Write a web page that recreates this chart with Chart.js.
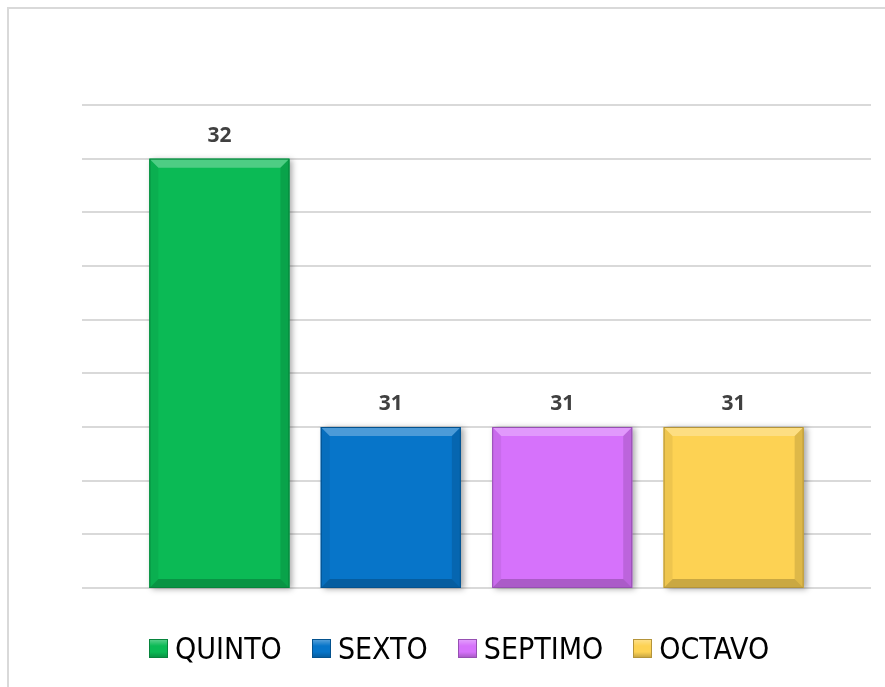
<!DOCTYPE html>
<html>
<head>
<meta charset="utf-8">
<script src="https://cdn.jsdelivr.net/npm/chart.js@4.4.0/dist/chart.umd.min.js"></script>
<style>
    html, body { margin: 0; padding: 0; background: #fff; overflow: hidden; }
    #frame { position: absolute; left: 7px; top: 7px; width: 900px; height: 700px; border: 2px solid #d9d9d9; }
    #gradesChart { position: absolute; left: 0; top: 0; }
    #legend { position: absolute; left: 149px; top: 631px; display: flex; align-items: center;
        font-family: 'Liberation Sans Narrow', 'DejaVu Sans Condensed', sans-serif; font-size: 30px; color: #000; white-space: nowrap; }
    .item { display: flex; align-items: center; margin-right: 30px; }
    .box { width: 19px; height: 19px; margin-right: 7px; box-sizing: border-box; }
</style>
</head>
<body>
<div id="frame"></div>
<canvas id="gradesChart" width="885" height="687"></canvas>
<div id="legend"></div>
<script>
const categories = ['QUINTO', 'SEXTO', 'SEPTIMO', 'OCTAVO'];
const values = [32, 31, 31, 31];
const colors = ['#0bba55', '#0775c9', '#d672fb', '#fdd253'];
const edgeColors = ['#07843c', '#04528e', '#9650b2', '#b4943a'];
const yMin = 30.4, yMax = 32.2, yStep = 0.2;

const barLabels = { //draw the value above each bar
    id: 'barLabels',
    afterDatasetsDraw(chart) {
        const ctx = chart.ctx;
        ctx.save();
        ctx.font = 'bold 21px "Open Sans", sans-serif';
        ctx.fillStyle = '#404040';
        ctx.textAlign = 'center';
        ctx.textBaseline = 'alphabetic';
        chart.data.datasets.forEach((ds, i) => {
            chart.getDatasetMeta(i).data.forEach((bar, j) => {
                ctx.fillText(ds.data[j], bar.x, bar.y - 17);
            });
        });
        ctx.restore();
    }
};

const bevel = { //light top edge, dark bottom edge like the excel bars
    id: 'bevel',
    beforeDatasetsDraw(chart) {
        const ctx = chart.ctx;
        const bottom = chart.chartArea.bottom;
        chart.data.datasets.forEach((ds, i) => {
            chart.getDatasetMeta(i).data.forEach(bar => {
                const l = bar.x - bar.width / 2;
                ctx.save();
                ctx.shadowColor = 'rgba(0,0,0,0.35)';
                ctx.shadowBlur = 6;
                ctx.shadowOffsetX = 3;
                ctx.shadowOffsetY = 1;
                ctx.fillStyle = ds.backgroundColor;
                ctx.fillRect(l, bar.y, bar.width, bottom - bar.y);
                ctx.restore();
            });
        });
    },
    afterDatasetsDraw(chart) {
        const ctx = chart.ctx;
        const b = 9;
        const bt = chart.chartArea.bottom;
        chart.data.datasets.forEach((ds, i) => {
            chart.getDatasetMeta(i).data.forEach(bar => {
                const l = bar.x - bar.width / 2, r = bar.x + bar.width / 2, t = bar.y;
                ctx.save();
                ctx.fillStyle = 'rgba(255,255,255,0.28)';
                ctx.beginPath();
                ctx.moveTo(l, t); ctx.lineTo(r, t); ctx.lineTo(r - b, t + b); ctx.lineTo(l + b, t + b); ctx.closePath();
                ctx.fill();
                ctx.fillStyle = 'rgba(0,0,0,0.12)';
                ctx.beginPath();
                ctx.moveTo(r, t); ctx.lineTo(r, bt); ctx.lineTo(r - b, bt - b); ctx.lineTo(r - b, t + b); ctx.closePath();
                ctx.fill();
                ctx.fillStyle = 'rgba(0,0,0,0.06)';
                ctx.beginPath();
                ctx.moveTo(l, t); ctx.lineTo(l, bt); ctx.lineTo(l + b, bt - b); ctx.lineTo(l + b, t + b); ctx.closePath();
                ctx.fill();
                ctx.fillStyle = 'rgba(0,0,0,0.2)';
                ctx.beginPath();
                ctx.moveTo(l, bt); ctx.lineTo(r, bt); ctx.lineTo(r - b, bt - b); ctx.lineTo(l + b, bt - b); ctx.closePath();
                ctx.fill();
                ctx.strokeStyle = ds.borderColor;
                ctx.lineWidth = 1;
                ctx.strokeRect(l + 0.5, t + 0.5, bar.width - 1, bt - t - 1);
                ctx.restore();
            });
        });
    }
};

function buildLegend() {
    const legend = document.getElementById('legend');
    categories.forEach((name, i) => {
        const item = document.createElement('div');
        item.className = 'item';
        const box = document.createElement('span');
        box.className = 'box';
        box.style.background = 'linear-gradient(to bottom, rgba(255,255,255,0.3), rgba(255,255,255,0) 35%, rgba(0,0,0,0) 70%, rgba(0,0,0,0.2)), ' + colors[i];
        box.style.border = '1px solid ' + edgeColors[i];
        const text = document.createElement('span');
        text.textContent = name;
        item.appendChild(box);
        item.appendChild(text);
        legend.appendChild(item);
    });
}

function createGradesChart() {
    const ctx = document.getElementById('gradesChart').getContext('2d');
    new Chart(ctx, {
        type: 'bar',
        data: {
            labels: [''],
            datasets: categories.map((name, i) => ({
                label: name,
                data: [values[i]],
                backgroundColor: colors[i],
                borderColor: edgeColors[i],
                borderWidth: 0,
                categoryPercentage: 0.869,
                barPercentage: 0.817
            }))
        },
        options: {
            responsive: false,
            animation: false,
            layout: { padding: { left: 82, right: 14, top: 105, bottom: 99 } },
            plugins: { legend: { display: false }, tooltip: { enabled: false } },
            scales: {
                x: { display: false },
                y: {
                    min: yMin,
                    max: yMax,
                    ticks: { display: false, stepSize: yStep },
                    border: { display: false },
                    grid: { color: '#d9d9d9', lineWidth: 2, drawTicks: false }
                }
            }
        },
        plugins: [bevel, barLabels]
    });
    buildLegend();
}

document.addEventListener("DOMContentLoaded", function() {
    createGradesChart();
});
</script>
</body>
</html>
